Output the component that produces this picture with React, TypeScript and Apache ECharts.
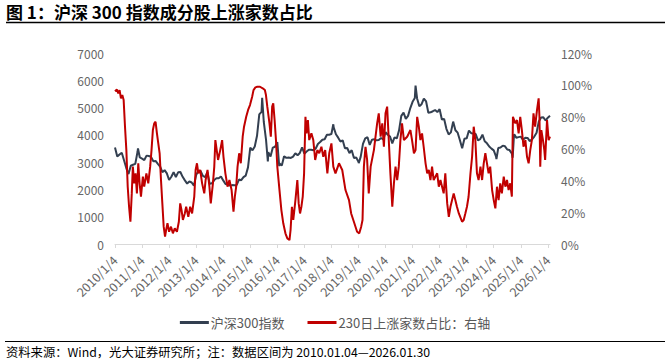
import React, { useEffect, useRef } from "react";
import * as echarts from "echarts";

// CSI 300 month-end closes, Jan 2010 … Jan 2026
const indexMonthEnd: number[] = [
  3204, 3281, 3346, 3067, 2782, 2563, 2868, 2903, 2936, 3379, 3172, 3128,
  3077, 3239, 3223, 3193, 3036, 3044, 2937, 2841, 2634, 2707, 2587, 2346,
  2464, 2634, 2455, 2627, 2637, 2462, 2332, 2214, 2293, 2254, 2140, 2523,
  2688, 2673, 2495, 2448, 2633, 2204, 2224, 2343, 2409, 2408, 2475, 2331,
  2202, 2178, 2146, 2158, 2157, 2165, 2361, 2338, 2450, 2508, 2808, 3533,
  3434, 3572, 3966, 4749, 4841, 4473, 3816, 3366, 3203, 3534, 3566, 3731,
  2946, 2877, 3218, 3156, 3170, 3154, 3203, 3327, 3253, 3336, 3538, 3310,
  3387, 3452, 3456, 3439, 3492, 3666, 3737, 3822, 3837, 4006, 4006, 4030,
  4275, 4023, 3898, 3756, 3802, 3510, 3517, 3334, 3438, 3153, 3172, 3010,
  3201, 3670, 3872, 3913, 3630, 3825, 3835, 3799, 3814, 3886, 3828, 4096,
  4003, 3940, 3686, 3912, 3867, 4164, 4695, 4816, 4587, 4695, 4981, 5211,
  5351, 5336, 5048, 5123, 5331, 5224, 4811, 4827, 4866, 4908, 4833, 4940,
  4563, 4581, 4223, 4016, 4091, 4485, 4170, 4079, 3804, 3508, 3854, 3872,
  4157, 4061, 4051, 4029, 3799, 3843, 4006, 3765, 3690, 3573, 3496, 3431,
  3215, 3516, 3537, 3604, 3580, 3462, 3442, 3321, 4017, 3891, 3916, 3935,
  3817, 3890, 3887, 3770, 3840, 3936, 4075, 4491, 4640, 4641, 4526, 4630,
  4700,
];
const indexStartValue = 3535; // 2010/1/4
// intra-month highs / lows (decimal year, value)
const indexExtremeYears = [2010.85, 2015.44, 2015.65, 2016.07, 2018.07, 2019.01, 2021.11, 2024.1, 2024.7, 2024.77];
const indexExtremeValues = [3500, 5354, 3025, 2854, 4389, 2965, 5807, 3108, 3160, 4000];

// 230-day up-share of CSI 300 constituents (decimal year, %)
const ratioYears = [
  2010.0, 2010.07, 2010.12, 2010.17, 2010.22, 2010.27, 2010.32, 2010.37, 2010.42, 2010.47, 2010.52,
  2010.57, 2010.62, 2010.66, 2010.71, 2010.76, 2010.81, 2010.86, 2010.91, 2010.96, 2011.03, 2011.08,
  2011.16, 2011.23, 2011.3, 2011.35, 2011.4, 2011.45, 2011.5, 2011.55, 2011.6, 2011.65, 2011.7,
  2011.75, 2011.8, 2011.85, 2011.89, 2011.94, 2012.0, 2012.07, 2012.14, 2012.21, 2012.29, 2012.36,
  2012.41, 2012.46, 2012.51, 2012.58, 2012.63, 2012.71, 2012.78, 2012.85, 2012.93, 2012.98, 2013.03,
  2013.08, 2013.15, 2013.22, 2013.3, 2013.35, 2013.42, 2013.49, 2013.54, 2013.62, 2013.67, 2013.71,
  2013.76, 2013.81, 2013.89, 2013.96, 2014.01, 2014.08, 2014.16, 2014.23, 2014.31, 2014.38, 2014.43,
  2014.48, 2014.53, 2014.59, 2014.65, 2014.72, 2014.77, 2014.85, 2014.92, 2014.99, 2015.07, 2015.12,
  2015.19, 2015.26, 2015.36, 2015.46, 2015.54, 2015.58, 2015.63, 2015.71, 2015.76, 2015.81, 2015.85,
  2015.9, 2015.95, 2016.0, 2016.08, 2016.15, 2016.22, 2016.3, 2016.37, 2016.45, 2016.49, 2016.54,
  2016.59, 2016.67, 2016.74, 2016.79, 2016.84, 2016.89, 2016.94, 2016.99, 2017.04, 2017.08, 2017.13,
  2017.18, 2017.26, 2017.33, 2017.4, 2017.48, 2017.55, 2017.63, 2017.7, 2017.77, 2017.85, 2017.92,
  2018.0, 2018.07, 2018.15, 2018.28, 2018.4, 2018.52, 2018.65, 2018.73, 2018.83, 2018.95, 2019.03,
  2019.1, 2019.15, 2019.2, 2019.26, 2019.32, 2019.38, 2019.45, 2019.57, 2019.69, 2019.75, 2019.82,
  2019.88, 2019.94, 2020.0, 2020.06, 2020.12, 2020.18, 2020.25, 2020.31, 2020.37, 2020.43, 2020.49,
  2020.55, 2020.61, 2020.68, 2020.8, 2020.92, 2020.98, 2021.05, 2021.11, 2021.17, 2021.23, 2021.29,
  2021.35, 2021.41, 2021.48, 2021.54, 2021.6, 2021.66, 2021.72, 2021.78, 2021.91, 2021.97, 2022.03,
  2022.15, 2022.21, 2022.28, 2022.34, 2022.4, 2022.52, 2022.58, 2022.64, 2022.71, 2022.83, 2022.89,
  2022.95, 2023.01, 2023.07, 2023.14, 2023.2, 2023.26, 2023.32, 2023.38, 2023.44, 2023.51, 2023.57,
  2023.63, 2023.69, 2023.75, 2023.81, 2023.87, 2023.94, 2024.0, 2024.06, 2024.12, 2024.18, 2024.24,
  2024.3, 2024.37, 2024.43, 2024.49, 2024.55, 2024.61, 2024.67, 2024.71, 2024.8, 2024.86, 2024.92,
  2024.98, 2025.04, 2025.1, 2025.17, 2025.23, 2025.29, 2025.35, 2025.41, 2025.47, 2025.53, 2025.6,
  2025.66, 2025.69, 2025.72, 2025.76, 2025.82, 2025.87, 2025.9, 2025.97, 2026.03, 2026.08,
];
const ratioValues = [
  96.0, 97.1, 94.6, 96.7, 91.5, 93.6, 90.4, 73.7, 59.0, 36.0, 23.4,
  14.0, 31.8, 48.6, 38.1, 44.4, 31.8, 50.7, 38.1, 29.7, 42.3, 36.0,
  44.4, 38.1, 48.6, 59.0, 71.6, 75.8, 76.8, 69.5, 63.2, 57.0, 40.2,
  25.5, 10.9, 4.6, 8.8, 13.0, 7.7, 10.9, 6.7, 9.8, 7.7, 14.0,
  25.5, 21.3, 15.1, 19.2, 23.4, 17.1, 23.4, 19.2, 29.7, 46.5, 50.7,
  44.4, 46.5, 38.1, 31.8, 40.2, 46.5, 36.0, 25.5, 38.1, 48.6, 65.3,
  59.0, 52.8, 59.0, 65.3, 54.8, 44.4, 36.0, 40.2, 33.9, 20.3, 29.7,
  36.0, 48.6, 57.0, 50.7, 67.4, 73.7, 79.9, 84.2, 87.3, 92.5, 96.7,
  98.4, 98.8, 98.8, 97.8, 96.7, 93.6, 86.3, 75.8, 67.4, 86.3, 88.4,
  77.9, 65.3, 48.6, 33.9, 21.3, 13.0, 6.7, 3.5, 2.5, 8.8, 23.4,
  15.1, 27.6, 40.2, 25.5, 19.2, 23.4, 29.7, 44.4, 79.9, 69.5, 77.9,
  65.3, 69.5, 65.3, 52.8, 59.0, 57.0, 61.1, 54.8, 59.0, 44.4, 57.0,
  63.2, 48.6, 44.4, 50.7, 46.5, 33.9, 27.6, 19.2, 14.0, 7.7, 6.7,
  10.9, 15.1, 48.6, 61.1, 52.8, 31.8, 48.6, 59.0, 75.8, 82.1, 67.4,
  75.8, 61.1, 82.1, 86.3, 65.3, 44.4, 23.4, 38.1, 48.6, 40.2, 48.6,
  65.3, 75.8, 65.3, 67.4, 71.6, 65.3, 57.0, 59.0, 79.9, 73.7, 65.3,
  69.5, 61.1, 50.7, 44.4, 46.5, 40.2, 48.6, 40.2, 44.4, 36.0, 40.2,
  31.8, 44.4, 25.5, 17.1, 23.4, 31.8, 27.6, 23.4, 19.2, 14.0, 15.1,
  19.2, 23.4, 29.7, 44.4, 54.8, 73.7, 65.3, 44.4, 40.2, 48.6, 40.2,
  50.7, 57.0, 50.7, 44.4, 48.6, 33.9, 27.6, 22.4, 36.0, 27.6, 38.1,
  31.8, 42.3, 36.0, 40.2, 33.9, 38.1, 29.7, 79.9, 75.8, 77.9, 69.5,
  79.9, 71.6, 61.1, 65.3, 54.8, 50.7, 59.0, 65.3, 82.1, 73.7, 84.2,
  91.5, 79.9, 48.6, 71.6, 65.3, 59.0, 52.8, 77.9, 65.3, 67.4,
];

const yearTicks = [2010, 2011, 2012, 2013, 2014, 2015, 2016, 2017, 2018, 2019, 2020, 2021, 2022, 2023, 2024, 2025, 2026];
const leftTicks = [0, 1000, 2000, 3000, 4000, 5000, 6000, 7000];
const rightTicks = [0, 0.2, 0.4, 0.6, 0.8, 1.0, 1.2];

const titleText = "图 1：沪深 300 指数成分股上涨家数占比";
const sourceText = "资料来源：Wind，光大证券研究所；注：数据区间为 2010.01.04—2026.01.30";
const seriesNames = ["沪深300指数", "230日上涨家数占比：右轴"];

const FONT = "'Noto Sans CJK SC', 'Noto Sans', sans-serif";
const LABEL_COLOR = "#666666";

export default function App() {
  const ref = useRef<HTMLDivElement>(null);

  useEffect(() => {
    if (!ref.current) return;
    const chart = echarts.init(ref.current, undefined, { renderer: "svg" });

    const indexPoints: [number, number][] = [[2010.0, indexStartValue]];
    indexMonthEnd.forEach((v, i) => indexPoints.push([2010 + (i + 1) / 12, v]));
    indexExtremeYears.forEach((y, i) => indexPoints.push([y, indexExtremeValues[i]]));
    indexPoints.sort((a, b) => a[0] - b[0]);
    const lastX = ratioYears[ratioYears.length - 1];
    indexPoints[indexPoints.length - 1][0] = Math.min(indexPoints[indexPoints.length - 1][0], lastX);

    const ratioPoints = ratioYears.map((y, i) => [y, ratioValues[i] / 100]);

    chart.setOption({
      animation: false,
      backgroundColor: "#ffffff",
      textStyle: { fontFamily: FONT },
      grid: { left: 115, right: 120, top: 53, bottom: 120, containLabel: false },
      legend: {
        show: true,
        top: 311,
        left: "center",
        icon: "rect",
        itemWidth: 29,
        itemHeight: 3,
        itemGap: 23,
        textStyle: { fontSize: 13, color: "#595959", fontFamily: FONT, padding: [0, 0, 0, -3] },
        data: seriesNames,
      },
      xAxis: {
        type: "value",
        min: 2010,
        max: lastX,
        interval: 1,
        splitLine: { show: false },
        axisLine: { show: true, lineStyle: { color: "#d9d9d9", width: 1 } },
        axisTick: { show: true, length: 4, lineStyle: { color: "#d9d9d9" }, customValues: yearTicks },
        axisLabel: {
          rotate: 45,
          margin: 14,
          fontSize: 12.5,
          color: LABEL_COLOR,
          fontFamily: FONT,
          customValues: yearTicks,
          hideOverlap: false,
          formatter: (v: number) => (Number.isInteger(v) && yearTicks.includes(v) ? `${v}/1/4` : ""),
        },
      },
      yAxis: [
        {
          type: "value",
          min: leftTicks[0],
          max: leftTicks[leftTicks.length - 1],
          interval: 1000,
          splitLine: { show: false },
          axisLine: { show: false },
          axisTick: { show: false },
          axisLabel: {
            fontSize: 12,
            color: LABEL_COLOR,
            margin: 11,
            fontFamily: FONT,
            formatter: (v: number) => String(Math.round(v)),
          },
        },
        {
          type: "value",
          min: rightTicks[0],
          max: rightTicks[rightTicks.length - 1],
          interval: 0.2,
          splitLine: { show: false },
          axisLine: { show: false },
          axisTick: { show: false },
          axisLabel: {
            fontSize: 12,
            color: LABEL_COLOR,
            margin: 11,
            fontFamily: FONT,
            formatter: (v: number) => `${Math.round(v * 100)}%`,
          },
        },
      ],
      series: [
        {
          name: seriesNames[0],
          type: "line",
          yAxisIndex: 0,
          data: indexPoints,
          showSymbol: false,
          symbol: "none",
          lineStyle: { color: "#333F50", width: 2 },
          itemStyle: { color: "#333F50" },
        },
        {
          name: seriesNames[1],
          type: "line",
          yAxisIndex: 1,
          data: ratioPoints,
          showSymbol: false,
          symbol: "none",
          lineStyle: { color: "#C00000", width: 2 },
          itemStyle: { color: "#C00000" },
        },
      ],
      graphic: [
        {
          type: "text",
          x: 6,
          y: 11,
          style: {
            text: titleText,
            fontSize: 17,
            fontWeight: "bold",
            fill: "#000000",
            fontFamily: FONT,
            verticalAlign: "middle",
            align: "left",
          },
        },
        {
          type: "line",
          shape: { x1: 6, y1: 22.5, x2: 665, y2: 22.5 },
          style: { stroke: "#000000", lineWidth: 1.5 },
        },
        {
          type: "line",
          shape: { x1: 5, y1: 341.5, x2: 665, y2: 341.5 },
          style: { stroke: "#000000", lineWidth: 1 },
        },
        {
          type: "text",
          x: 6,
          y: 352,
          style: {
            text: sourceText,
            fontSize: 12.3,
            fill: "#000000",
            fontFamily: FONT,
            verticalAlign: "middle",
            align: "left",
          },
        },
      ],
    });

    return () => chart.dispose();
  }, []);

  return (
    <div
      ref={ref}
      style={{ position: "fixed", left: 0, top: 0, width: 670, height: 364, background: "#fff" }}
    />
  );
}
